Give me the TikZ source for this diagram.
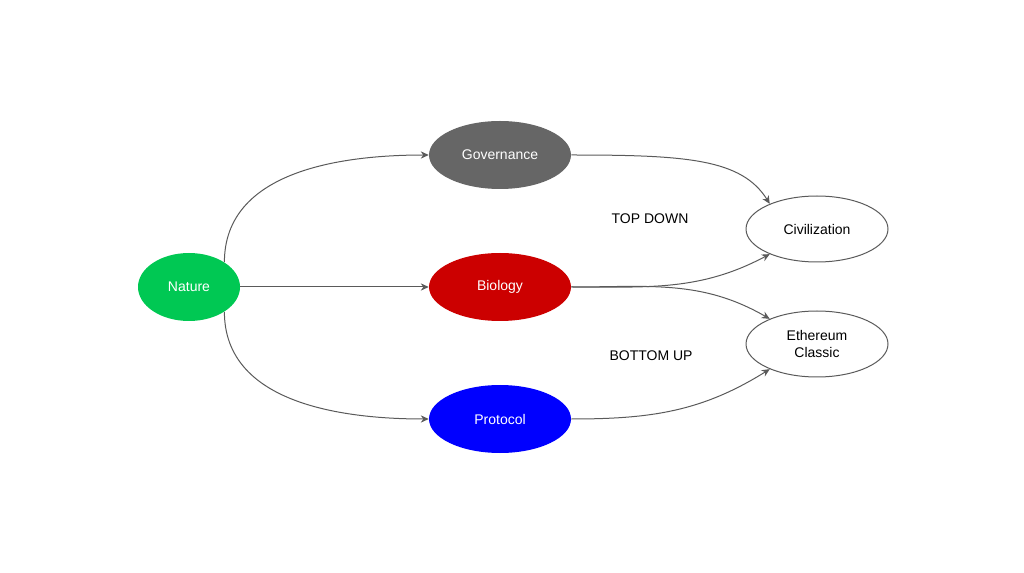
\documentclass[tikz,border=0pt]{standalone}
\usepackage{fontspec}
\setmainfont{Liberation Sans}
\usetikzlibrary{arrows.meta,shapes.geometric}
\definecolor{natgreen}{HTML}{00C853}
\definecolor{govgray}{HTML}{666666}
\definecolor{biored}{HTML}{CC0000}
\definecolor{problue}{HTML}{0000FF}
\definecolor{linegray}{HTML}{5A5A5A}
\tikzset{
  blob/.style={ellipse,inner sep=0pt,minimum width=106.5pt,minimum height=51pt,text=white,font=\fontsize{10.5}{12}\selectfont},
  goal/.style={ellipse,draw=linegray,line width=0.75pt,fill=white,inner sep=0pt,minimum width=106.5pt,minimum height=49.5pt,align=center,font=\fontsize{10.5}{12.5}\selectfont},
  flow/.style={draw=linegray,line width=0.75pt,-{Stealth[length=6pt,width=5.5pt]}}
}
\begin{document}
\begin{tikzpicture}[x=0.75pt,y=-0.75pt]
\useasboundingbox (0,0) rectangle (1024,573);
\node[blob,fill=natgreen,minimum width=76.5pt] (nat) at (189,287) {Nature};
\node[blob,fill=govgray] (gov) at (500,155) {Governance};
\node[blob,fill=biored] (bio) at (500,287) {Biology};
\node[blob,fill=problue] (pro) at (500,419) {Protocol};
\node[goal] (civ) at (817,229) {Civilization};
\node[goal] (etc) at (817,344) {Ethereum\\Classic};
\node[font=\fontsize{10.5}{12}\selectfont] (top) at (650,219) {TOP DOWN};
\node[font=\fontsize{10.5}{12}\selectfont] (bot) at (651,356) {BOTTOM UP};
% nature to the middle column
\draw[flow] (nat.35) to[out=90,in=180] (gov.west);
\draw[flow] (nat.east) -- (bio.west);
\draw[flow] (nat.-35) to[out=-90,in=180] (pro.west);
% middle column to the goals
\draw[flow] (gov.east) .. controls +(115,0) and +(-28,-45) .. (civ.152);
\draw[flow] (bio.east) to[out=0,in=208] (civ.208);
\draw[flow] (bio.east) to[out=0,in=150] (etc.152);
\draw[flow] (pro.east) to[out=0,in=212] (etc.208);
\end{tikzpicture}
\end{document}
